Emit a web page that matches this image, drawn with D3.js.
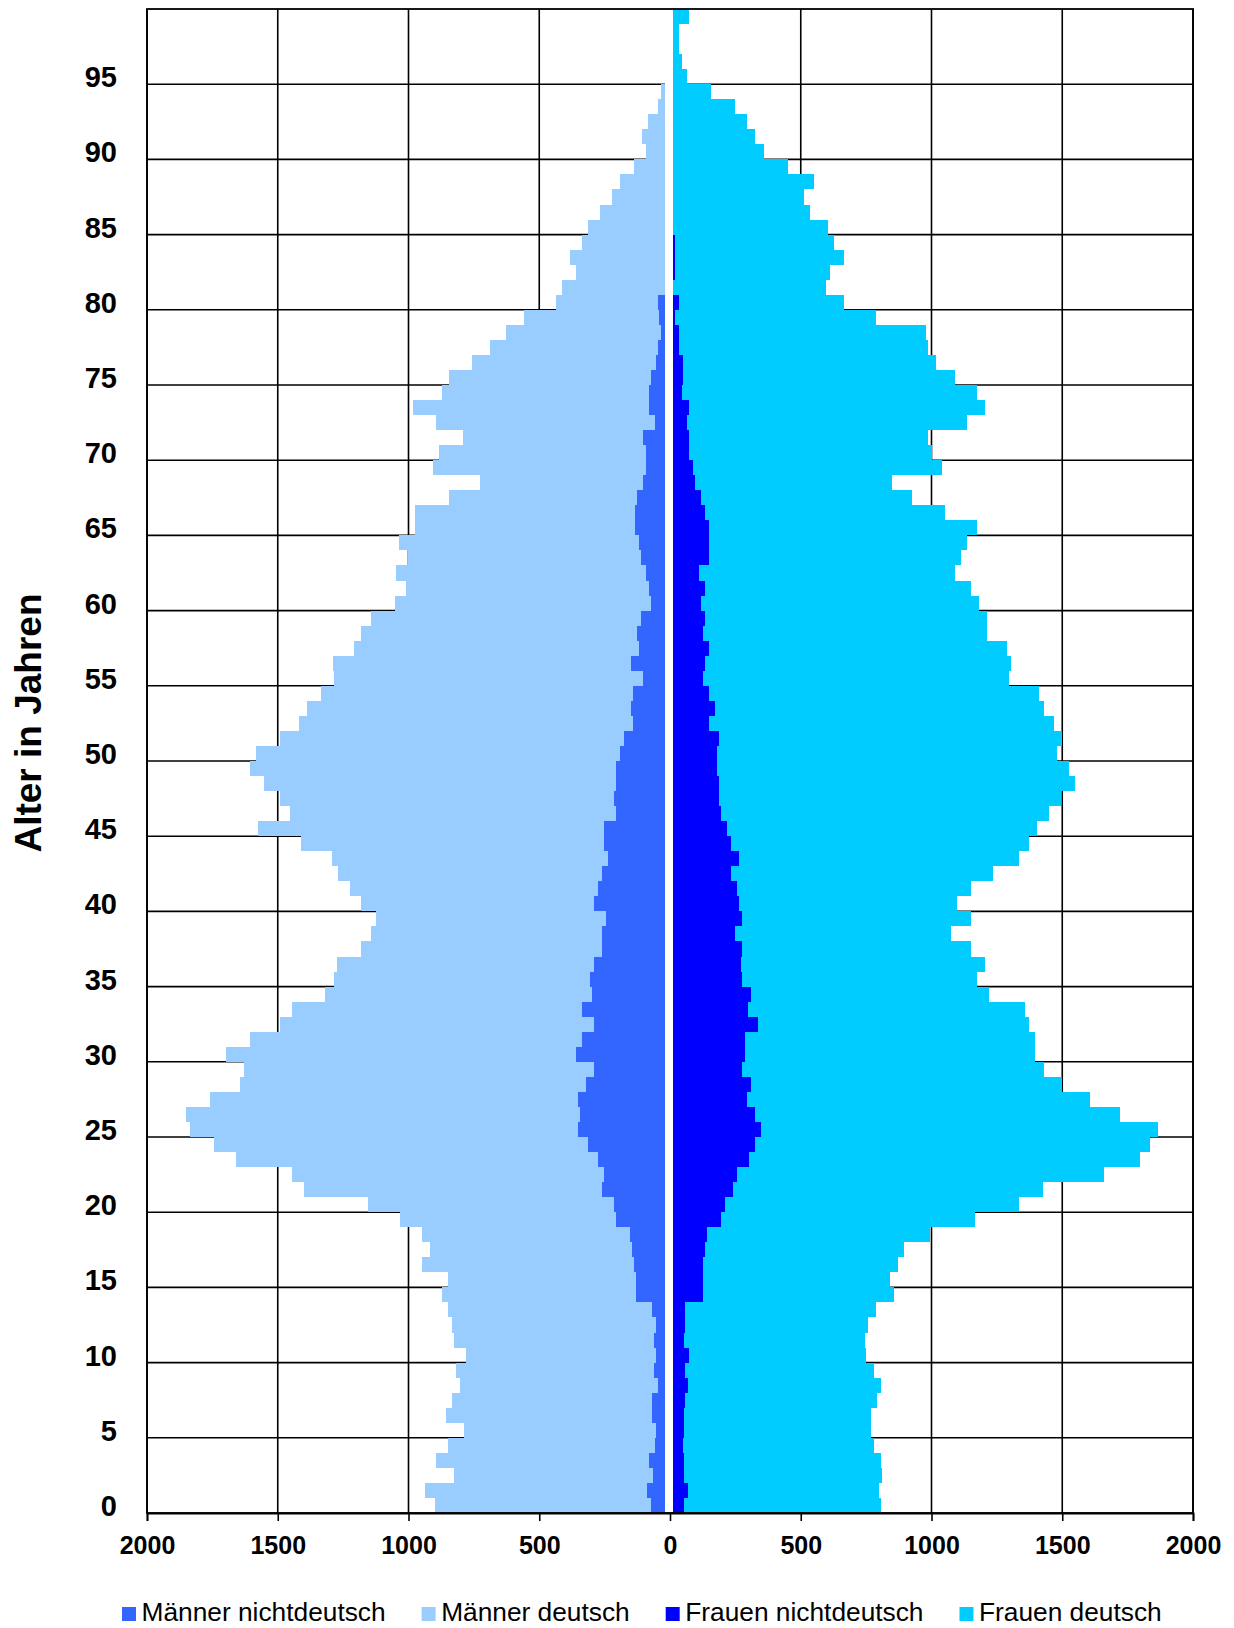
<!DOCTYPE html>
<html lang="de">
  <head>
    <meta charset="UTF-8" />
    <title>Alterspyramide</title>
    <script src="https://d3js.org/d3.v7.min.js"></script>
    <style>
      body {
        margin: 0;
        background: white;
        font-family: 'Liberation Sans', Arial, sans-serif;
      }
      svg {
        display: block;
      }
    </style>
  </head>
  <body>
    <svg width="1234" height="1628"></svg>

    <script>
      // ages 0..99, index = age
      const ages = d3.range(0, 100);

      const menNichtdeutsch = [
        74, 89, 66, 81, 58, 54, 69, 69, 46, 61,
        54, 61, 54, 69, 130, 130, 138, 146, 153, 207,
        215, 261, 253, 276, 314, 353, 345, 353, 322, 291,
        360, 337, 291, 337, 299, 307, 291, 261, 261, 245,
        291, 276, 261, 238, 253, 253, 207, 215, 207, 207,
        192, 175, 142, 149, 140, 104, 149, 120, 127, 111,
        74, 82, 90, 111, 120, 135, 135, 127, 103, 92,
        92, 103, 58, 82, 79, 74, 53, 46, 34, 43,
        46, 10, 20, 20, 10, 8, 6, 5, 4, 3,
        3, 2, 2, 1, 1, 1, 0, 0, 0, 0,
      ];

      const menDeutsch = [
        824, 847, 761, 815, 792, 732, 786, 763, 756, 756,
        725, 764, 778, 779, 741, 718, 809, 771, 794, 825,
        939, 1137, 1191, 1382, 1429, 1482, 1505, 1405, 1321, 1337,
        1337, 1268, 1199, 1107, 1022, 976, 984, 922, 884, 878,
        892, 946, 1007, 1053, 1160, 1321, 1245, 1275, 1344, 1398,
        1390, 1317, 1278, 1240, 1196, 1179, 1140, 1087, 1056, 1034,
        979, 926, 956, 892, 918, 841, 841, 720, 622, 814,
        793, 690, 835, 901, 791, 773, 703, 642, 592, 515,
        390, 403, 340, 363, 327, 306, 262, 217, 188, 135,
        89, 106, 83, 45, 32, 19, 15, 10, 7, 5,
      ];

      const frauenNichtdeutsch = [
        55, 68, 55, 52, 48, 52, 52, 59, 67, 59,
        74, 52, 59, 59, 128, 128, 128, 135, 143, 196,
        211, 242, 257, 302, 325, 348, 325, 295, 308, 277,
        285, 285, 338, 300, 308, 277, 270, 277, 247, 277,
        262, 255, 232, 262, 232, 217, 194, 186, 186, 180,
        180, 186, 150, 172, 150, 128, 134, 150, 126, 134,
        120, 134, 112, 150, 150, 150, 134, 118, 96, 88,
        74, 74, 66, 74, 44, 50, 50, 34, 34, 18,
        34, 8, 18, 18, 18, 6, 5, 4, 3, 3,
        2, 2, 1, 1, 1, 0, 0, 0, 0, 0,
      ];

      const frauenDeutsch = [
        753, 732, 755, 753, 732, 716, 716, 731, 738, 723,
        676, 692, 699, 729, 729, 714, 744, 760, 853, 972,
        1123, 1183, 1404, 1495, 1510, 1518, 1395, 1312, 1192, 1155,
        1109, 1109, 1034, 1056, 913, 898, 936, 875, 829, 875,
        837, 897, 1004, 1072, 1140, 1185, 1255, 1309, 1361, 1344,
        1299, 1314, 1320, 1260, 1260, 1168, 1169, 1139, 1087, 1079,
        1063, 1018, 979, 964, 987, 1025, 919, 807, 753, 951,
        927, 914, 1071, 1131, 1131, 1041, 968, 952, 944, 771,
        632, 590, 595, 648, 609, 599, 531, 510, 549, 449,
        359, 322, 292, 246, 154, 64, 46, 34, 34, 72,
      ];

      const xTicks = [-2000, -1500, -1000, -500, 0, 500, 1000, 1500, 2000];
      const yTicks = d3.range(0, 100, 5);
      const seriesNames = [
        'Männer nichtdeutsch',
        'Männer deutsch',
        'Frauen nichtdeutsch',
        'Frauen deutsch',
      ];
      const colors = ['#3366FF', '#99CCFF', '#0000FF', '#00CCFF'];

      const rows = ages.map((a, i) => ({
        age: a,
        mn: menNichtdeutsch[i],
        md: menDeutsch[i],
        fn: frauenNichtdeutsch[i],
        fd: frauenDeutsch[i],
      }));

      const plot = { left: 147, right: 1193, top: 9, bottom: 1513 };

      const svg = d3.select('svg');

      const x = d3
        .scaleLinear()
        .domain([-2000, 2000])
        .range([plot.left, plot.right]);

      const y = d3
        .scaleBand()
        .domain(ages.slice().reverse())
        .range([plot.top, plot.bottom])
        .padding(0);

      // gridlines (behind bars)
      const grid = svg
        .append('g')
        .attr('stroke', '#000')
        .attr('stroke-width', 1.6);

      grid
        .selectAll('line.v')
        .data(xTicks.filter((t) => t !== 0))
        .join('line')
        .attr('x1', (d) => x(d))
        .attr('x2', (d) => x(d))
        .attr('y1', plot.top)
        .attr('y2', plot.bottom);

      grid
        .selectAll('line.h')
        .data(d3.range(5, 100, 5))
        .join('line')
        .attr('x1', plot.left)
        .attr('x2', plot.right)
        .attr('y1', (d) => y(d) + y.bandwidth())
        .attr('y2', (d) => y(d) + y.bandwidth());

      // stacked bars, men to the left
      const menStack = d3.stack().keys(['mn', 'md'])(rows);
      const womenStack = d3.stack().keys(['fn', 'fd'])(rows);

      menStack.forEach((layer, i) => {
        svg
          .append('g')
          .selectAll('rect')
          .data(layer)
          .join('rect')
          .attr('x', (d) => x(-d[1]))
          .attr('width', (d) => x(-d[0]) - x(-d[1]))
          .attr('y', (d) => y(d.data.age))
          .attr('height', y.bandwidth())
          .attr('fill', colors[i])
          .attr('shape-rendering', 'crispEdges');
      });

      womenStack.forEach((layer, i) => {
        svg
          .append('g')
          .selectAll('rect')
          .data(layer)
          .join('rect')
          .attr('x', (d) => x(d[0]))
          .attr('width', (d) => x(d[1]) - x(d[0]))
          .attr('y', (d) => y(d.data.age))
          .attr('height', y.bandwidth())
          .attr('fill', colors[i + 2])
          .attr('shape-rendering', 'crispEdges');
      });

      // white centre strip
      svg
        .append('rect')
        .attr('x', x(0) - 5)
        .attr('y', plot.top)
        .attr('width', 8)
        .attr('height', plot.bottom - plot.top)
        .attr('fill', 'white');

      // frame
      svg
        .append('rect')
        .attr('x', plot.left)
        .attr('y', plot.top)
        .attr('width', plot.right - plot.left)
        .attr('height', plot.bottom - plot.top)
        .attr('fill', 'none')
        .attr('stroke', '#000')
        .attr('stroke-width', 1.8);

      // x axis
      const xAxis = svg
        .append('g')
        .attr('transform', `translate(0,${plot.bottom})`)
        .call(
          d3
            .axisBottom(x)
            .tickValues(xTicks)
            .tickSize(8)
            .tickFormat((d) => Math.abs(d)),
        );
      xAxis.select('.domain').attr('stroke', '#000').attr('stroke-width', 1.8);
      xAxis
        .selectAll('.tick line')
        .attr('stroke', '#000')
        .attr('stroke-width', 1.6);
      xAxis
        .selectAll('.tick text')
        .attr('y', 41)
        .attr('dy', 0)
        .attr('fill', '#000')
        .style('font-family', "'Liberation Sans', Arial, sans-serif")
        .style('font-size', '25px')
        .style('font-weight', 'bold');

      // y labels
      svg
        .append('g')
        .selectAll('text')
        .data(yTicks)
        .join('text')
        .attr('x', 117)
        .attr('y', (d) => y(d) + y.bandwidth() / 2)
        .attr('dy', '0.36em')
        .attr('text-anchor', 'end')
        .style('font-size', '29px')
        .style('font-weight', 'bold')
        .text((d) => d);

      svg
        .append('text')
        .attr('transform', 'translate(41,723) rotate(-90)')
        .attr('text-anchor', 'middle')
        .style('font-size', '37px')
        .style('font-weight', 'bold')
        .text('Alter in Jahren');

      // legend
      const legend = svg.append('g').attr('transform', 'translate(122,1621)');
      let lx = 0;
      seriesNames.forEach((name, i) => {
        const item = legend
          .append('g')
          .attr('transform', `translate(${lx},0)`);
        item
          .append('rect')
          .attr('x', 0)
          .attr('y', -14)
          .attr('width', 14)
          .attr('height', 14)
          .attr('fill', colors[i]);
        const t = item
          .append('text')
          .attr('x', 19.5)
          .attr('y', 0)
          .style('font-size', '26.3px')
          .text(name);
        lx += 19.5 + t.node().getComputedTextLength() + 36;
      });
    </script>
  </body>
</html>
